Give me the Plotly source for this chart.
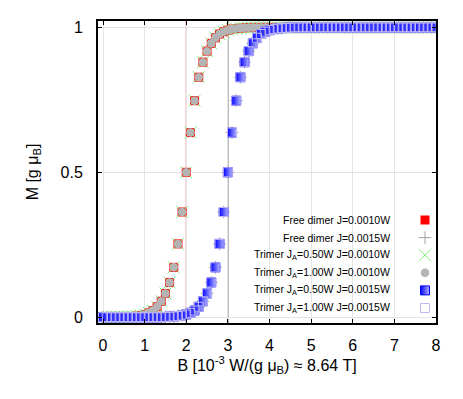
import plotly.graph_objects as go

# ---- data ----
B = [0.0, 0.1, 0.2, 0.3, 0.4, 0.5, 0.6, 0.7, 0.8, 0.9,
     1.0, 1.1, 1.2, 1.3, 1.4, 1.5, 1.6, 1.7, 1.8, 1.9,
     2.0, 2.1, 2.2, 2.3, 2.4, 2.5, 2.6, 2.7, 2.8, 2.9,
     3.0, 3.1, 3.2, 3.3, 3.4, 3.5, 3.6, 3.7, 3.8, 3.9,
     4.0, 4.1, 4.2, 4.3, 4.4, 4.5, 4.6, 4.7, 4.8, 4.9,
     5.0, 5.1, 5.2, 5.3, 5.4, 5.5, 5.6, 5.7, 5.8, 5.9,
     6.0, 6.1, 6.2, 6.3, 6.4, 6.5, 6.6, 6.7, 6.8, 6.9,
     7.0, 7.1, 7.2, 7.3, 7.4, 7.5, 7.6, 7.7, 7.8, 7.9, 8.0]

# magnetisation for J = 0.0010 W (free dimer and both trimers coincide)
M_J0010 = [0, 0, 0, 0, 0, 0.001, 0.0016, 0.0025, 0.004, 0.006,
           0.0095, 0.015, 0.023, 0.036, 0.055, 0.082, 0.12, 0.172, 0.253, 0.363,
           0.5, 0.637, 0.747, 0.828, 0.88, 0.918, 0.945, 0.964, 0.977, 0.985,
           0.9905, 0.994, 0.996, 0.9975, 0.9984, 0.999, 1, 1, 1, 1,
           1, 1, 1, 1, 1, 1, 1, 1, 1, 1,
           1, 1, 1, 1, 1, 1, 1, 1, 1, 1,
           1, 1, 1, 1, 1, 1, 1, 1, 1, 1,
           1, 1, 1, 1, 1, 1, 1, 1, 1, 1, 1]

# magnetisation for J = 0.0015 W
M_J0015 = [0, 0, 0, 0, 0, 0, 0, 0, 0, 0,
           0, 0, 0, 0, 0, 0.001, 0.0016, 0.0025, 0.004, 0.006,
           0.0095, 0.015, 0.023, 0.036, 0.055, 0.082, 0.12, 0.172, 0.253, 0.363,
           0.5, 0.637, 0.747, 0.828, 0.88, 0.918, 0.945, 0.964, 0.977, 0.985,
           0.9905, 0.994, 0.996, 0.9975, 0.9984, 0.999, 1, 1, 1, 1,
           1, 1, 1, 1, 1, 1, 1, 1, 1, 1,
           1, 1, 1, 1, 1, 1, 1, 1, 1, 1,
           1, 1, 1, 1, 1, 1, 1, 1, 1, 1, 1]

labels = ["Free dimer J=0.0010W",
          "Free dimer J=0.0015W",
          "Trimer J<sub>A</sub>=0.50W J=0.0010W",
          "Trimer J<sub>A</sub>=1.00W J=0.0010W",
          "Trimer J<sub>A</sub>=0.50W J=0.0015W",
          "Trimer J<sub>A</sub>=1.00W J=0.0015W"]

x_ticks = [0, 1, 2, 3, 4, 5, 6, 7, 8]
y_ticks = [0, 0.5, 1]
y_ticktext = ["0", "0.5", "1"]
step_fields = [2, 3]            # vertical guide lines (B = 2J)
step_colors = ["#ff5a5a", "#9a9a9a"]
step_widths = [1, 1.6]

FONT = "Liberation Sans, Arial, Helvetica, sans-serif"

series = [M_J0010, M_J0015, M_J0010, M_J0010, M_J0015, M_J0015]
markers = [
    dict(symbol="square", size=9, color="#ff0000", line=dict(width=0)),
    dict(symbol="cross-thin", size=9, color="#a0a0a0", line=dict(width=1, color="#a0a0a0")),
    dict(symbol="x-thin", size=12, color="#80ee80", line=dict(width=1, color="#80ee80")),
    dict(symbol="circle", size=8.5, color="#b4b4b4", line=dict(width=0)),
    dict(symbol="square", size=9, color="#0000ff",
         gradient=dict(type="horizontal", color="#b4b4ff"),
         line=dict(width=1, color="#0000ff")),
    dict(symbol="square-open", size=9, color="#c0b8f4", line=dict(width=1, color="#c0b8f4")),
]

# page offset of the figure inside the browser window (body margin)
OFF = 8
FIG_W, FIG_H = 463 - OFF, 399 - OFF
# plot area in window pixels
L, R, T, Bm = 98, 436, 21, 323
W, H = R - L, Bm - T


def px_x(p):
    return (p - L) / W


def px_y(p):
    return (Bm - p) / H


key_rows = [220, 237.6, 255.2, 272.8, 290.4, 308]
key_x = 425
text_right = 392

fig = go.Figure()
for lab, ys, mk in zip(labels, series, markers):
    fig.add_trace(go.Scatter(x=B, y=ys, mode="markers", name=lab, marker=mk,
                             showlegend=False))

legends = {}
for i, (lab, mk) in enumerate(zip(labels, markers)):
    lid = "legend" if i == 0 else f"legend{i + 1}"
    # legend-only key entry (no data points of its own)
    fig.add_trace(go.Scatter(x=[None], y=[None], mode="markers", name="",
                             marker=mk, showlegend=True, legend=lid,
                             hoverinfo="skip"))
    legends[lid] = dict(x=px_x(key_x - 20), y=px_y(key_rows[i]),
                        xanchor="left", yanchor="middle",
                        bgcolor="rgba(0,0,0,0)", borderwidth=0,
                        font=dict(family=FONT, size=10.5, color="black"))

shapes = []
# opaque key box (covers the grid only)
shapes.append(dict(type="rect", xref="paper", yref="paper",
                   x0=px_x(243), x1=1, y0=0, y1=px_y(209),
                   fillcolor="white", line=dict(width=0), layer="between"))
for xv, c, w in zip(step_fields, step_colors, step_widths):
    shapes.append(dict(type="line", xref="x", yref="paper", x0=xv, x1=xv, y0=0, y1=1,
                       line=dict(color=c, width=w), layer="between"))

annotations = []
for i, lab in enumerate(labels):
    annotations.append(dict(text=lab, xref="paper", yref="paper",
                            x=px_x(text_right), y=px_y(key_rows[i]),
                            xanchor="right", yanchor="middle", showarrow=False,
                            font=dict(family=FONT, size=10.5, color="#000000")))

axis_common = dict(showline=True, linecolor="black", linewidth=2, mirror="ticks",
                   ticks="inside", ticklen=4, tickcolor="black", tickwidth=1,
                   showgrid=True, gridcolor="#e4e4e4", gridwidth=1, zeroline=False,
                   tickfont=dict(family=FONT, size=16, color="black"))

fig.update_layout(
    width=FIG_W, height=FIG_H,
    margin=dict(l=L - OFF, r=FIG_W - (R - OFF), t=T - OFF, b=FIG_H - (Bm - OFF),
                autoexpand=False),
    paper_bgcolor="white", plot_bgcolor="white",
    shapes=shapes, annotations=annotations,
    showlegend=True,
    xaxis=dict(range=[-0.12, 8], tickvals=x_ticks, ticklabelstandoff=7,
               title=dict(text="B [10<sup>-3</sup> W/(g μ<sub>B</sub>) ≈ 8.64 T]",
                          font=dict(family=FONT, size=16, color="black"), standoff=0),
               **axis_common),
    yaxis=dict(range=[-0.02, 1.022], tickvals=y_ticks, ticktext=y_ticktext,
               ticklabelstandoff=10,
               title=dict(text="M [g μ<sub>B</sub>]",
                          font=dict(family=FONT, size=16, color="black"), standoff=18),
               **axis_common),
    **legends,
)

fig.write_html("out.html")
